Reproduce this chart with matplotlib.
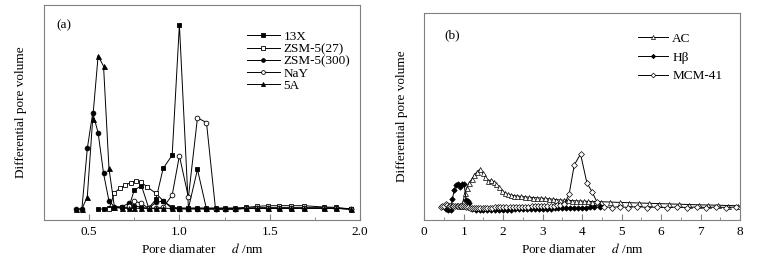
import matplotlib
matplotlib.use("Agg")
import matplotlib.pyplot as plt
from matplotlib.ticker import MultipleLocator

plt.rcParams['font.family'] = ['Liberation Serif', 'DejaVu Serif']
plt.rcParams['mathtext.fontset'] = 'stix'

# ---------------- panel (a) data ----------------
x_13x = [0.55, 0.58, 0.61, 0.64, 0.68, 0.72, 0.75, 0.79, 0.83, 0.87, 0.91, 0.96, 1.00, 1.05,
         1.10, 1.15, 1.20, 1.25, 1.31, 1.37, 1.43, 1.49, 1.55, 1.62, 1.69, 1.80, 1.87, 1.95]
y_13x = [0.0, 0.0, 0.02, 0.02, 0.05, 0.05, 0.57, 0.70, 0.03, 0.29, 1.22, 1.62, 5.54, 0.02,
         1.19, 0.0, 0.0, 0.0, 0.0, 0.02, 0.03, 0.03, 0.03, 0.03, 0.03, 0.03, 0.02, 0.0]

x_zsm27 = [0.61, 0.64, 0.67, 0.70, 0.73, 0.76, 0.79, 0.82, 0.87, 0.91, 0.96, 1.00, 1.05, 1.10,
           1.15, 1.20, 1.25, 1.31, 1.37, 1.43, 1.49, 1.55, 1.62, 1.69, 1.80, 1.87, 1.95]
y_zsm27 = [0.0, 0.49, 0.62, 0.72, 0.79, 0.85, 0.80, 0.67, 0.47, 0.25, 0.05, 0.03, 0.03, 0.03,
           0.03, 0.03, 0.03, 0.03, 0.05, 0.08, 0.10, 0.10, 0.10, 0.10, 0.06, 0.05, 0.0]

x_zsm300 = [0.43, 0.46, 0.49, 0.52, 0.55, 0.58, 0.61, 0.64, 0.68, 0.72, 0.75, 0.79, 0.83, 0.87,
            0.91, 0.96, 1.00, 1.05, 1.10, 1.15, 1.20, 1.25, 1.31, 1.37, 1.43, 1.49, 1.55, 1.62,
            1.69, 1.80, 1.87, 1.95]
y_zsm300 = [0.0, 0.0, 1.82, 2.89, 2.29, 1.07, 0.24, 0.07, 0.07, 0.17, 0.10, 0.05, 0.02, 0.20,
            0.24, 0.02, 0.0, 0.0, 0.0, 0.0, 0.0, 0.0, 0.0, 0.02, 0.03, 0.03, 0.03, 0.03,
            0.03, 0.03, 0.02, 0.0]

x_nay = [0.72, 0.75, 0.79, 0.83, 0.87, 0.91, 0.96, 1.00, 1.05, 1.10, 1.15, 1.20, 1.25, 1.31,
         1.37, 1.43, 1.49, 1.55, 1.62, 1.69, 1.80, 1.87, 1.95]
y_nay = [0.10, 0.24, 0.17, 0.02, 0.02, 0.05, 0.42, 1.60, 0.35, 2.74, 2.60, 0.0, 0.0, 0.0,
         0.02, 0.03, 0.03, 0.03, 0.03, 0.03, 0.03, 0.02, 0.0]

x_5a = [0.43, 0.46, 0.49, 0.52, 0.55, 0.58, 0.61, 0.64, 0.68, 0.72, 0.75, 0.79, 0.83, 0.87,
        0.91, 0.96, 1.00, 1.05, 1.10, 1.15, 1.20, 1.25, 1.31, 1.37, 1.43, 1.49, 1.55, 1.62,
        1.69, 1.80, 1.87, 1.95]
y_5a = [0.0, 0.0, 0.37, 2.72, 4.61, 4.29, 1.22, 0.07, 0.02, 0.02, 0.02, 0.02, 0.02, 0.02,
        0.02, 0.02, 0.02, 0.02, 0.02, 0.02, 0.02, 0.02, 0.02, 0.02, 0.02, 0.02, 0.02, 0.02,
        0.02, 0.02, 0.02, 0.0]

# ---------------- panel (b) data ----------------
x_ac = [0.93, 0.98, 1.03, 1.07, 1.13, 1.20, 1.27, 1.34, 1.41, 1.48, 1.54, 1.62, 1.69, 1.76,
        1.83, 1.90, 1.97, 2.04, 2.11, 2.19, 2.27, 2.35, 2.45, 2.55, 2.65, 2.75, 2.85, 2.95,
        3.05, 3.15, 3.25, 3.35, 3.45, 3.55, 3.65, 3.75, 3.85, 3.95, 4.05, 4.15, 4.25, 4.35,
        4.47, 4.70, 4.95, 5.20, 5.45, 5.70, 5.95, 6.20, 6.45, 6.70, 6.95, 7.20, 7.45, 7.70, 7.95]
y_ac = [4.0, 8.3, 16.7, 21.7, 26.7, 30.7, 35.0, 38.3, 40.7, 37.3, 33.3, 29.3, 30.0, 28.3,
        25.7, 22.7, 19.3, 17.3, 15.7, 15.0, 14.5, 14.0, 13.6, 13.2, 12.8, 12.5, 12.2, 12.0,
        11.6, 11.2, 10.8, 10.4, 10.0, 9.8, 9.6, 9.4, 9.2, 9.0, 8.8, 8.6, 8.5, 8.4,
        8.3, 8.0, 7.6, 7.3, 7.0, 6.7, 6.4, 6.1, 5.8, 5.5, 5.2, 5.0, 4.8, 4.5, 4.3]

x_hb = [0.55, 0.60, 0.67, 0.71, 0.76, 0.80, 0.86, 0.90, 0.96, 1.01, 1.06, 1.10, 1.14, 1.20,
        1.30, 1.40, 1.50, 1.60, 1.70, 1.80, 1.90, 2.00, 2.10, 2.20, 2.30, 2.40, 2.50, 2.60,
        2.70, 2.80, 2.90, 3.00, 3.10, 3.20, 3.30, 3.40, 3.50, 3.60, 3.70, 3.80, 3.90, 4.00,
        4.10, 4.20, 4.30, 4.45]
y_hb = [1.0, 0.0, 0.5, 10.7, 20.0, 25.0, 25.7, 22.7, 25.7, 25.7, 10.0, 9.0, 7.3, 1.0,
        0.3, 0.2, 0.2, 0.2, 0.3, 0.3, 0.4, 0.4, 0.5, 0.5, 0.6, 0.7, 0.8, 0.9,
        1.0, 1.1, 1.2, 1.3, 1.4, 1.5, 1.6, 1.7, 1.8, 1.9, 2.0, 2.1, 2.2, 2.4,
        2.5, 2.7, 2.9, 3.1]

x_mcm = [0.42, 0.46, 0.50, 0.54, 0.58, 0.62, 0.66, 0.70, 0.74, 0.78, 0.82, 0.86, 0.90, 0.94,
         0.98, 1.02, 1.06, 1.10, 1.15, 1.20, 1.25, 1.30, 1.36, 1.42, 1.48, 1.54, 1.60, 1.66,
         1.72, 1.79, 1.86, 1.93, 2.00, 2.08, 2.16, 2.24, 2.32, 2.40, 2.48, 2.56, 2.64, 2.72,
         2.80, 2.88, 2.96, 3.04, 3.12, 3.20, 3.28, 3.36, 3.44, 3.55, 3.67, 3.80, 3.96, 4.12,
         4.25, 4.38, 4.55, 4.75, 4.95, 5.15, 5.40, 5.65, 5.90, 6.15, 6.40, 6.65, 6.90, 7.15,
         7.40, 7.65, 7.90]
y_mcm = [3.5, 4.0, 4.5, 6.0, 5.5, 4.5, 4.5, 4.0, 4.5, 4.5, 4.0, 4.0, 4.5, 4.0,
         4.0, 4.0, 3.5, 3.0, 2.5, 2.0, 2.0, 2.0, 2.0, 2.0, 2.0, 2.0, 2.5, 2.5,
         2.5, 3.0, 3.0, 3.0, 3.0, 3.0, 3.0, 3.0, 3.2, 3.2, 3.3, 3.4, 3.5, 3.6,
         3.7, 3.8, 3.9, 4.0, 4.1, 4.2, 4.4, 4.6, 4.8, 6.0, 15.7, 45.0, 56.0, 27.3,
         18.3, 7.7, 3.5, 2.5, 3.5, 2.5, 3.5, 2.5, 3.0, 2.5, 3.0, 2.5, 3.0, 2.5,
         3.0, 2.5, 3.0]

fig = plt.figure(figsize=(7.62, 2.65), dpi=100)
axa = fig.add_axes([0.0577, 0.1698, 0.4147, 0.811])
axb = fig.add_axes([0.5568, 0.1698, 0.4143, 0.782])

FS = 9.5
lw = 0.7
frame = '#808080'

def style(ax):
    for s in ax.spines.values():
        s.set_color(frame)
        s.set_linewidth(0.8)
    ax.tick_params(axis='x', which='both', direction='in', top=False, color=frame,
                   labelsize=FS, pad=4)
    ax.tick_params(axis='x', which='major', length=4)
    ax.tick_params(axis='x', which='minor', length=2.5)
    ax.set_yticks([])
    ax.set_ylabel('Differential pore volume', fontsize=FS, labelpad=12)
    ax.set_xlabel(r'Pore diamater     $\it{d}$ /nm', fontsize=FS, labelpad=3)

# panel (a)
axa.plot(x_13x, y_13x, '-s', color='k', lw=lw, ms=3.2, mfc='k', mec='k', mew=0.6, label='13X')
axa.plot(x_zsm27, y_zsm27, '-s', color='k', lw=lw, ms=3.2, mfc='white', mec='k', mew=0.6, label='ZSM-5(27)')
axa.plot(x_zsm300, y_zsm300, '-o', color='k', lw=lw, ms=3.4, mfc='k', mec='k', mew=0.6, label='ZSM-5(300)')
axa.plot(x_nay, y_nay, '-o', color='k', lw=lw, ms=3.4, mfc='white', mec='k', mew=0.6, label='NaY')
axa.plot(x_5a, y_5a, '-^', color='k', lw=lw, ms=3.6, mfc='k', mec='k', mew=0.6, label='5A')
axa.set_xlim(0.25, 2.0)
axa.set_ylim(-0.33, 6.13)
axa.xaxis.set_major_locator(MultipleLocator(0.5))
axa.xaxis.set_minor_locator(MultipleLocator(0.25))
axa.xaxis.set_major_formatter(matplotlib.ticker.FormatStrFormatter('%.1f'))
style(axa)
axa.text(0.04, 0.935, '(a)', transform=axa.transAxes, fontsize=FS, va='top', ha='left')
axa.legend(loc='upper left', bbox_to_anchor=(0.625, 0.905), fontsize=FS, frameon=False,
           handlelength=2.5, handletextpad=0.3, labelspacing=0.0, borderaxespad=0,
           markerscale=0.8)

# panel (b)
axb.plot(x_ac, y_ac, '-^', color='k', lw=lw, ms=3.6, mfc='white', mec='k', mew=0.5, label='AC')
axb.plot(x_hb, y_hb, '-D', color='k', lw=lw, ms=2.8, mfc='k', mec='k', mew=0.5, label='H\u03b2')
axb.plot(x_mcm, y_mcm, '-D', color='k', lw=lw, ms=3.0, mfc='white', mec='k', mew=0.5, label='MCM-41')
axb.set_xlim(0, 8)
axb.set_ylim(-10, 197.3)
axb.xaxis.set_major_locator(MultipleLocator(1))
axb.xaxis.set_minor_locator(MultipleLocator(0.5))
style(axb)
axb.text(0.063, 0.921, '(b)', transform=axb.transAxes, fontsize=FS, va='top', ha='left')
axb.legend(loc='upper left', bbox_to_anchor=(0.66, 0.93), fontsize=FS, frameon=False,
           handlelength=2.3, handletextpad=0.3, labelspacing=0.5, borderaxespad=0,
           markerscale=0.8)

fig.savefig('out.png', dpi=100)
